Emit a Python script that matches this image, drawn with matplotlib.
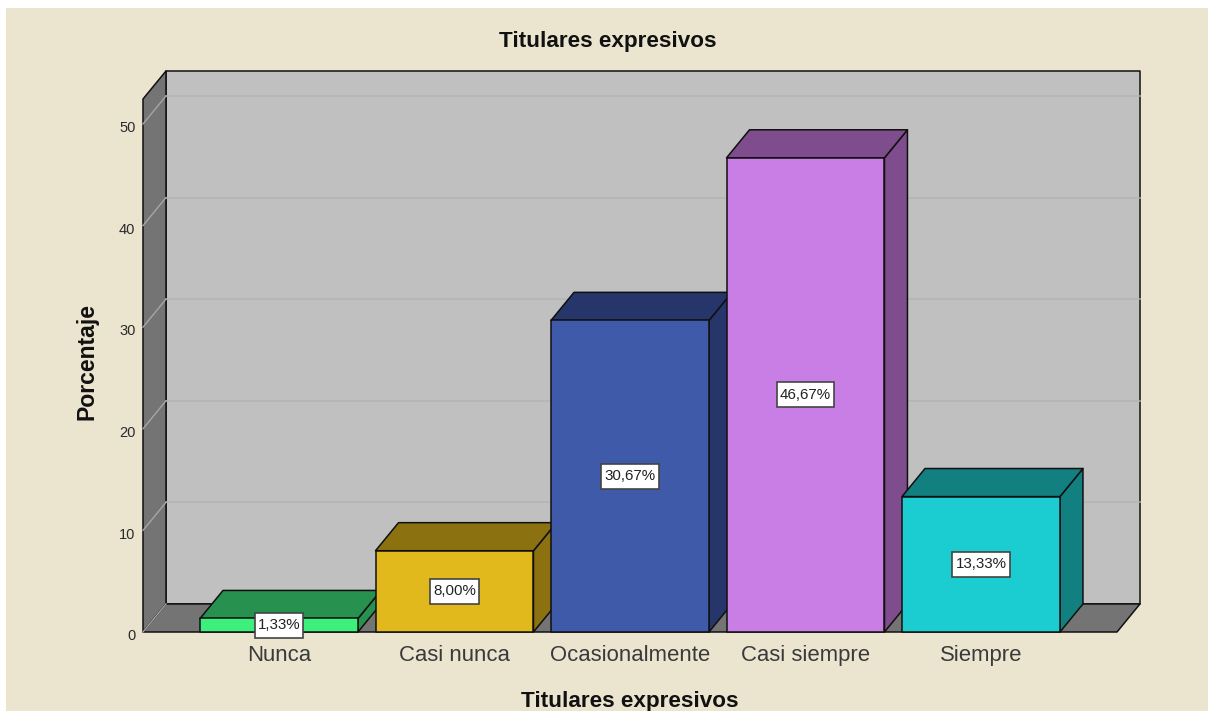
import matplotlib
matplotlib.use('Agg')
import matplotlib.pyplot as plt
from matplotlib.patches import Rectangle
from matplotlib.path import Path
from matplotlib.transforms import ScaledTranslation

plt.rcParams['font.family'] = ['Liberation Sans', 'DejaVu Sans']

categorias = ['Nunca', 'Casi nunca', 'Ocasionalmente', 'Casi siempre', 'Siempre']
porcentajes = [1.33, 8.00, 30.67, 46.67, 13.33]
etiquetas = ['1,33%', '8,00%', '30,67%', '46,67%', '13,33%']
ticks_y = [0, 10, 20, 30, 40, 50]

color_frente = ['#3df07e', '#e2b91c', '#3f5aa8', '#c97ee6', '#1bcdd1']
color_lado = ['#27914f', '#8b7110', '#26366a', '#7f4d8d', '#128080']

FONDO = '#ebe5d0'
PARED = '#c0c0c0'
PISO = '#747474'

# profundidad del efecto 3D, en unidades de los ejes
dx = 0.131
dy = 2.76
ancho = 0.90
x_min, x_max = -0.775, 4.775
y_max = 52.46

fig = plt.figure(figsize=(12.08, 7.11), dpi=100, facecolor='white')
fig.patches.append(Rectangle((6 / 1208, 0), 1202 / 1208, 703 / 711, transform=fig.transFigure,
                             facecolor=FONDO, edgecolor='none', zorder=-10))

ax = fig.add_axes([143 / 1208, 79 / 711, 974 / 1208, 533 / 711])
ax.set_xlim(x_min, x_max)
ax.set_ylim(0, y_max)
ax.patch.set_visible(False)
for s in ax.spines.values():
    s.set_visible(False)


def cara(xs, ys, color, z=2, lw=1.1):
    ax.fill(xs, ys, facecolor=color, edgecolor='#101010', linewidth=lw, zorder=z,
            clip_on=False, joinstyle='round')


# caja de las etiquetas, mas alta que ancha de margen
def caja(x0, y0, w, h, size):
    px, py = 0.2 * size, 0.36 * size
    return Path([(x0 - px, y0 - py), (x0 + w + px, y0 - py), (x0 + w + px, y0 + h + py),
                 (x0 - px, y0 + h + py), (x0 - px, y0 - py)], closed=True)


# paredes y piso
cara([x_min + dx, x_max + dx, x_max + dx, x_min + dx], [dy, dy, y_max + dy, y_max + dy], PARED, 1)
cara([x_min, x_min + dx, x_min + dx, x_min], [0, dy, y_max + dy, y_max], PISO, 1)
cara([x_min, x_max, x_max + dx, x_min + dx], [0, 0, dy, dy], PISO, 1)

# rejilla
for t in ticks_y[1:]:
    ax.plot([x_min + dx, x_max + dx], [t + dy, t + dy], color='#b3b3b3', lw=1.1, zorder=1.5, clip_on=False)
for t in ticks_y:
    ax.plot([x_min, x_min + dx], [t, t + dy], color='#a6a6a6', lw=1.0, zorder=1.5, clip_on=False)

# barras
for i, v in enumerate(porcentajes):
    x0 = i - ancho / 2
    x1 = i + ancho / 2
    cara([x1, x1 + dx, x1 + dx, x1], [0, dy, v + dy, v], color_lado[i], 2 + i * 0.1)
    cara([x0, x0 + dx, x1 + dx, x1], [v, v + dy, v + dy, v], color_lado[i], 2 + i * 0.1)
    cara([x0, x1, x1, x0], [0, 0, v, v], color_frente[i], 2 + i * 0.1)
    ax.text(i, v / 2, etiquetas[i], ha='center', va='center', fontsize=10.9, color='#222222', zorder=5,
            bbox=dict(boxstyle=caja, facecolor='white', edgecolor='#444444', linewidth=1.2))

ax.set_xticks(range(len(categorias)))
ax.set_xticklabels(categorias, fontsize=15.9, color='#3a3a3a')
ax.set_yticks(ticks_y)
ax.set_yticklabels(ticks_y, fontsize=10.5, color='#2a2a2a')
ax.tick_params(axis='x', length=0, pad=9.7)
ax.tick_params(axis='y', length=0, pad=5.5)
# las etiquetas del eje y quedan un poco por debajo de su linea
for lab in ax.get_yticklabels():
    lab.set_transform(lab.get_transform() + ScaledTranslation(0, -2 / 72, fig.dpi_scale_trans))

fig.text(608 / 1208, 1 - 41 / 711, 'Titulares expresivos', ha='center', va='center',
         fontsize=16.2, fontweight='bold', color='#111111')
fig.text(629.5 / 1208, 1 - 701 / 711, 'Titulares expresivos', ha='center', va='center',
         fontsize=16.2, fontweight='bold', color='#111111')
fig.text(87 / 1208, 1 - 362 / 711, 'Porcentaje', ha='center', va='center', rotation=90,
         fontsize=16.6, fontweight='bold', color='#111111')

fig.savefig('out.png', dpi=100)
